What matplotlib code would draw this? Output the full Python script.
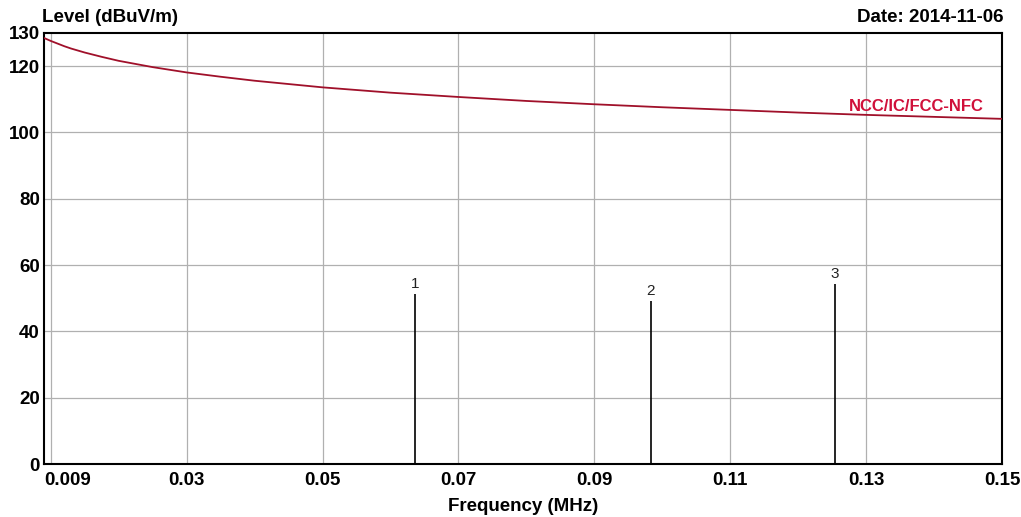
import numpy as np
import matplotlib.pyplot as plt

# limit line (MHz, dBuV/m)
limit_freq = [0.009, 0.010, 0.011, 0.012, 0.013, 0.015, 0.0175, 0.020, 0.025, 0.030,
              0.035, 0.040, 0.050, 0.060, 0.070, 0.080, 0.090, 0.100, 0.110, 0.120,
              0.130, 0.140, 0.150]
limit_level = [128.5, 127.6, 126.8, 126.0, 125.3, 124.1, 122.8, 121.6, 119.7, 118.1,
               116.8, 115.6, 113.6, 112.0, 110.7, 109.5, 108.5, 107.6, 106.8, 106.0,
               105.3, 104.7, 104.1]

# measured peaks
peak_freq = [0.0636, 0.0983, 0.1254]
peak_level = [51.2, 49.2, 54.2]
peak_names = ["1", "2", "3"]

xticks = [0.009, 0.03, 0.05, 0.07, 0.09, 0.11, 0.13, 0.15]
xtick_labels = ["0.009", "0.03", "0.05", "0.07", "0.09", "0.11", "0.13", "0.15"]
xgrid = [0.01, 0.03, 0.05, 0.07, 0.09, 0.11, 0.13]
yticks = [0, 20, 40, 60, 80, 100, 120, 130]

plt.rcParams['font.family'] = ['Liberation Sans', 'DejaVu Sans']

fig = plt.figure(figsize=(10.21, 5.17), dpi=100)
ax = fig.add_axes([0.0431, 0.1025, 0.9383, 0.8337])
ax.set_xlim(0.009, 0.15)
ax.set_ylim(0, 130)

# grid
for g in xgrid:
    ax.axvline(g, color='#b0b0b0', lw=0.9, zorder=0)
for g in yticks[1:-1]:
    ax.axhline(g, color='#b0b0b0', lw=0.9, zorder=0)

ax.plot(limit_freq, limit_level, color='#a0102a', lw=1.3, zorder=3)
ax.text(0.1374, 105.6, "NCC/IC/FCC-NFC", color='#d0103a', fontsize=12,
        fontweight='bold', ha='center', va='bottom')

ax.vlines(peak_freq, 0, peak_level, color='black', lw=1.2, zorder=4)
for f, v, n in zip(peak_freq, peak_level, peak_names):
    ax.text(f, v + 1, n, fontsize=11, ha='center', va='bottom', color='#222222')

ax.set_xticks(xticks)
ax.set_xticklabels(xtick_labels, fontsize=13.5, fontweight='bold')
ax.get_xticklabels()[0].set_horizontalalignment('left')
ax.set_yticks(yticks)
ax.set_yticklabels([str(t) for t in yticks], fontsize=13.5, fontweight='bold')
ax.tick_params(axis='x', length=0, pad=6)
ax.tick_params(axis='y', length=0, pad=3)

for s in ax.spines.values():
    s.set_linewidth(1.5)

fig.text(0.0415, 0.95, "Level (dBuV/m)", fontsize=13.5, fontweight='bold',
         ha='left', va='bottom')
fig.text(0.983, 0.95, "Date: 2014-11-06", fontsize=13.5, fontweight='bold',
         ha='right', va='bottom')
ax.set_xlabel("Frequency (MHz)", fontsize=13.5, fontweight='bold', labelpad=6)

fig.savefig("out.png", dpi=100)
